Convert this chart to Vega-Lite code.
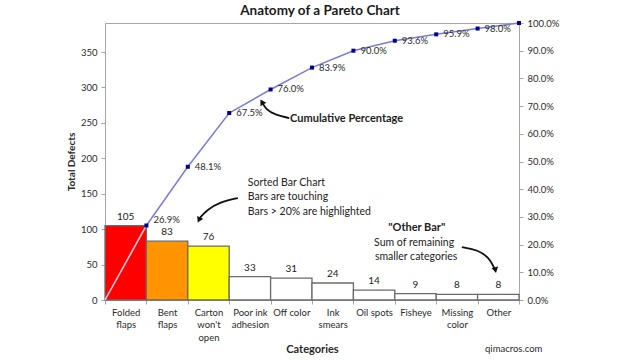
{
  "$schema": "https://vega.github.io/schema/vega-lite/v6.json",
  "width": 414,
  "height": 277,
  "autosize": {"type": "none"},
  "padding": {"left": 105, "top": 23, "right": 121, "bottom": 60},
  "background": "white",
  "config": {
    "font": "Lato",
    "view": {"stroke": "#a6a6a6", "strokeWidth": 1},
    "axis": {
      "grid": false,
      "labelFont": "Lato",
      "labelFontSize": 9.5,
      "labelColor": "#2a2a2a",
      "domainColor": "#a6a6a6",
      "tickColor": "#a6a6a6",
      "tickSize": 4,
      "titleFont": "Lato",
      "titleColor": "#2a2a2a"
    }
  },
  "title": {
    "text": "Anatomy of a Pareto Chart",
    "font": "Lato",
    "fontSize": 13.5,
    "fontWeight": "bold",
    "color": "#1a1a1a",
    "anchor": "middle",
    "dx": 8,
    "offset": 1
  },
  "datasets": {
    "bars": [
      {"cat": "Folded flaps", "count": 105},
      {"cat": "Bent flaps", "count": 83},
      {"cat": "Carton won't open", "count": 76},
      {"cat": "Poor ink adhesion", "count": 33},
      {"cat": "Off color", "count": 31},
      {"cat": "Ink smears", "count": 24},
      {"cat": "Oil spots", "count": 14},
      {"cat": "Fisheye", "count": 9},
      {"cat": "Missing color", "count": 8},
      {"cat": "Other", "count": 8}
    ],
    "cum": [
      {"n": 0, "f": 0},
      {"n": 1, "f": 0.269},
      {"n": 2, "f": 0.481},
      {"n": 3, "f": 0.675},
      {"n": 4, "f": 0.760},
      {"n": 5, "f": 0.839},
      {"n": 6, "f": 0.900},
      {"n": 7, "f": 0.936},
      {"n": 8, "f": 0.959},
      {"n": 9, "f": 0.980},
      {"n": 10, "f": 1.0}
    ],
    "notes": [
      {"role": "heading", "text": "Cumulative Percentage", "n": 4.47, "f": 0.653},
      {"role": "body", "text": "Sorted Bar Chart", "n": 3.45, "f": 0.422},
      {"role": "body", "text": "Bars are touching", "n": 3.45, "f": 0.372},
      {"role": "body", "text": "Bars > 20% are highlighted", "n": 3.45, "f": 0.318},
      {"role": "heading", "text": "\"Other Bar\"", "n": 6.84, "f": 0.260},
      {"role": "body", "text": "Sum of remaining", "n": 6.50, "f": 0.206},
      {"role": "body", "text": "smaller categories", "n": 6.52, "f": 0.155},
      {"role": "footer", "text": "qimacros.com", "n": 9.18, "f": -0.177}
    ],
    "arrows": [
      {"id": "a1", "k": 0, "n": 4.45, "f": 0.657},
      {"id": "a1", "k": 1, "n": 4.1, "f": 0.668},
      {"id": "a1", "k": 2, "n": 3.88, "f": 0.69},
      {"id": "a1", "k": 3, "n": 3.8, "f": 0.713},
      {"id": "a2", "k": 0, "n": 3.21, "f": 0.368},
      {"id": "a2", "k": 1, "n": 2.78, "f": 0.354},
      {"id": "a2", "k": 2, "n": 2.46, "f": 0.325},
      {"id": "a2", "k": 3, "n": 2.29, "f": 0.296},
      {"id": "a3", "k": 0, "n": 8.62, "f": 0.191},
      {"id": "a3", "k": 1, "n": 9.01, "f": 0.181},
      {"id": "a3", "k": 2, "n": 9.28, "f": 0.152},
      {"id": "a3", "k": 3, "n": 9.40, "f": 0.116}
    ],
    "heads": [
      {"id": "a1", "n": 3.79, "f": 0.715},
      {"id": "a2", "n": 2.27, "f": 0.289},
      {"id": "a3", "n": 9.43, "f": 0.108}
    ]
  },
  "layer": [
    {
      "data": {"name": "bars"},
      "encoding": {
        "x": {
          "field": "cat",
          "type": "nominal",
          "sort": null,
          "scale": {"paddingInner": 0, "paddingOuter": 0},
          "axis": {
            "orient": "bottom",
            "title": "Categories",
            "titleFontSize": 11,
            "titleFontWeight": "bold",
            "titleY": 52,
            "titleBaseline": "alphabetic",
            "tickBand": "extent",
            "labelAngle": 0,
            "labelPadding": 3,
            "labelLineHeight": 12.5,
            "labelExpr": "!isValid(datum.value) ? '' : datum.value == 'Poor ink adhesion' ? ['Poor ink', 'adhesion'] : (datum.value == 'Off color' || datum.value == 'Oil spots') ? datum.value : split(datum.value, ' ')"
          }
        },
        "y": {
          "field": "count",
          "type": "quantitative",
          "scale": {"domain": [0, 391], "nice": false},
          "axis": {
            "orient": "left",
            "values": [0, 50, 100, 150, 200, 250, 300, 350],
            "title": "Total Defects",
            "titleFontSize": 10,
            "titleFontWeight": "bold",
            "titlePadding": 4,
            "labelPadding": 4
          }
        }
      },
      "layer": [
        {
          "mark": {"type": "bar", "stroke": "#6b6b6b", "strokeWidth": 1.3},
          "encoding": {
            "color": {
              "field": "cat",
              "type": "nominal",
              "scale": {
                "domain": ["Folded flaps", "Bent flaps", "Carton won't open", "Poor ink adhesion", "Off color", "Ink smears", "Oil spots", "Fisheye", "Missing color", "Other"],
                "range": ["#ff0000", "#ff9400", "#ffff00", "#ffffff", "#ffffff", "#ffffff", "#ffffff", "#ffffff", "#ffffff", "#ffffff"]
              },
              "legend": null
            }
          }
        },
        {
          "mark": {"type": "text", "dy": -9, "fontSize": 10, "color": "#222222"},
          "encoding": {"text": {"field": "count", "type": "quantitative"}}
        }
      ]
    },
    {
      "encoding": {
        "x": {"field": "n", "type": "quantitative", "scale": {"domain": [0, 10], "nice": false}, "axis": null},
        "y": {
          "field": "f",
          "type": "quantitative",
          "scale": {"domain": [0, 1], "nice": false},
          "axis": {
            "orient": "right",
            "title": null,
            "format": ".1%",
            "values": [0, 0.1, 0.2, 0.3, 0.4, 0.5, 0.6, 0.7, 0.8, 0.9, 1.0],
            "labelPadding": 4
          }
        }
      },
      "layer": [
        {
          "data": {"name": "cum"},
          "mark": {"type": "line", "color": "#7b7bdb", "strokeWidth": 1.5}
        },
        {
          "data": {"name": "cum"},
          "transform": [{"filter": "datum.n <= 1"}],
          "mark": {"type": "line", "color": "#f7c4c4", "strokeWidth": 1.5}
        },
        {
          "data": {"name": "cum"},
          "transform": [{"filter": "datum.n >= 1"}],
          "mark": {"type": "point", "shape": "square", "filled": true, "color": "#00008b", "size": 16, "opacity": 1}
        },
        {
          "data": {"name": "cum"},
          "transform": [{"filter": "datum.n == 1"}],
          "mark": {"type": "text", "align": "left", "dx": 7, "dy": -5, "fontSize": 9.5, "color": "#2a2a2a"},
          "encoding": {"text": {"field": "f", "type": "quantitative", "format": ".1%"}}
        },
        {
          "data": {"name": "cum"},
          "transform": [{"filter": "datum.n > 1 && datum.n < 10"}],
          "mark": {"type": "text", "align": "left", "dx": 7, "dy": 0, "fontSize": 9.5, "color": "#2a2a2a"},
          "encoding": {"text": {"field": "f", "type": "quantitative", "format": ".1%"}}
        },
        {
          "data": {"name": "notes"},
          "transform": [{"filter": "datum.role == 'heading'"}],
          "mark": {"type": "text", "align": "left", "fontSize": 11, "fontWeight": "bold", "color": "#222222"},
          "encoding": {"text": {"field": "text"}}
        },
        {
          "data": {"name": "notes"},
          "transform": [{"filter": "datum.role == 'body'"}],
          "mark": {"type": "text", "align": "left", "fontSize": 10.5, "color": "#222222"},
          "encoding": {"text": {"field": "text"}}
        },
        {
          "data": {"name": "notes"},
          "transform": [{"filter": "datum.role == 'footer'"}],
          "mark": {"type": "text", "align": "left", "fontSize": 9.5, "color": "#2a2a2a"},
          "encoding": {"text": {"field": "text"}}
        },
        {
          "data": {"name": "arrows"},
          "mark": {"type": "line", "color": "#111111", "strokeWidth": 1.8, "interpolate": "basis"},
          "encoding": {
            "detail": {"field": "id"},
            "order": {"field": "k", "type": "quantitative"}
          }
        },
        {
          "data": {"name": "heads"},
          "transform": [{"filter": "datum.id == 'a1'"}],
          "mark": {"type": "point", "shape": "triangle-up", "filled": true, "color": "#111111", "size": 45, "opacity": 1, "angle": 330}
        },
        {
          "data": {"name": "heads"},
          "transform": [{"filter": "datum.id == 'a2'"}],
          "mark": {"type": "point", "shape": "triangle-up", "filled": true, "color": "#111111", "size": 45, "opacity": 1, "angle": 205}
        },
        {
          "data": {"name": "heads"},
          "transform": [{"filter": "datum.id == 'a3'"}],
          "mark": {"type": "point", "shape": "triangle-up", "filled": true, "color": "#111111", "size": 45, "opacity": 1, "angle": 168}
        }
      ]
    }
  ],
  "resolve": {"scale": {"x": "independent", "y": "independent"}}
}
